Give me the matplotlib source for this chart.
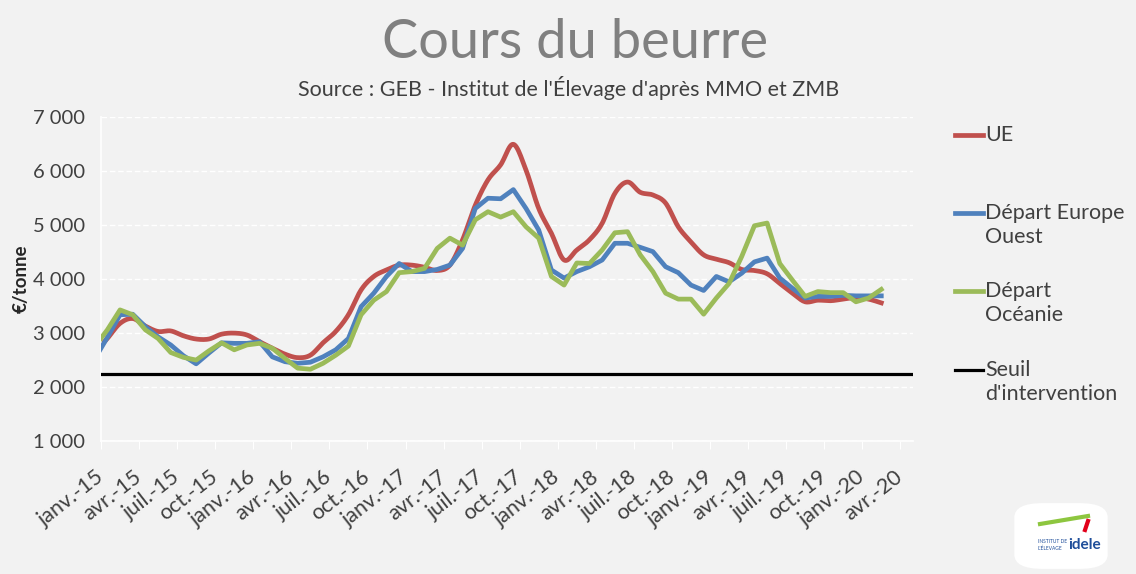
import matplotlib
matplotlib.use("Agg")
import matplotlib.pyplot as plt
from matplotlib.lines import Line2D
from matplotlib.patches import FancyBboxPatch
import matplotlib.transforms as mtransforms
import numpy as np

plt.rcParams['font.family'] = ['Lato', 'DejaVu Sans']

# monthly series, déc.-14 .. févr.-20 (déc.-14 falls just left of the axis)
ue = [2640, 2900, 3180, 3270, 3130, 3030, 3040, 2950, 2890, 2890, 2980, 3000, 2965,
      2840, 2720, 2610, 2545, 2590, 2820, 3030, 3340, 3800, 4050, 4170, 4260,
      4260, 4220, 4160, 4260, 4730, 5370, 5840, 6120, 6500, 6020, 5310, 4850,
      4355, 4540, 4730, 5035, 5590, 5800, 5610, 5560, 5410, 4970, 4690, 4450,
      4370, 4305, 4180, 4160, 4100, 3920, 3740, 3580, 3610, 3600, 3630, 3660,
      3630, 3560]
europe_ouest = [2520, 2920, 3340, 3350, 3120, 2930, 2780, 2580, 2430, 2630, 2820, 2810, 2810,
                2840, 2560, 2470, 2440, 2460, 2560, 2690, 2900, 3490, 3740, 4050, 4290,
                4140, 4140, 4180, 4260, 4570, 5310, 5500, 5490, 5660, 5310, 4910, 4170,
                4020, 4140, 4230, 4355, 4665, 4665, 4590, 4510, 4230, 4120, 3890, 3790,
                4050, 3950, 4110, 4320, 4390, 4020, 3830, 3650, 3680, 3680, 3700, 3690,
                3690, 3690]
oceanie = [2750, 3060, 3430, 3340, 3060, 2900, 2640, 2550, 2500, 2670, 2820, 2690, 2780,
           2810, 2720, 2530, 2350, 2330, 2440, 2590, 2760, 3340, 3610, 3770, 4120,
           4140, 4200, 4570, 4760, 4630, 5100, 5250, 5150, 5250, 4970, 4760, 4050,
           3890, 4300, 4290, 4540, 4860, 4880, 4450, 4140, 3740, 3630, 3630, 3350,
           3650, 3920, 4420, 4990, 5040, 4290, 3980, 3680, 3770, 3750, 3750, 3580,
           3650, 3810]
seuil_value = 2250
seuil_months = 66  # déc.-14 .. avr.-20

tick_labels = []
for yy in range(15, 21):
    for mm in ["janv.", "avr.", "juil.", "oct."]:
        tick_labels.append(f"{mm}-{yy}")
tick_labels = tick_labels[:22]

W, H = 1136, 574


def smooth(x, y, n=12):
    # catmull-rom, roughly like Excel's smoothed line
    x = np.asarray(x, float)
    y = np.asarray(y, float)
    xs, ys = [], []
    t = np.linspace(0, 1, n, endpoint=False)
    for i in range(len(x) - 1):
        i0, i3 = max(i - 1, 0), min(i + 2, len(x) - 1)
        for arr, out in ((x, xs), (y, ys)):
            p0, p1, p2, p3 = arr[i0], arr[i], arr[i + 1], arr[i3]
            out.extend(0.5 * ((2 * p1) + (-p0 + p2) * t
                              + (2 * p0 - 5 * p1 + 4 * p2 - p3) * t ** 2
                              + (-p0 + 3 * p1 - 3 * p2 + p3) * t ** 3))
    xs.append(x[-1])
    ys.append(y[-1])
    return np.array(xs), np.array(ys)


bg = "#F2F2F2"
fig = plt.figure(figsize=(W / 100, H / 100), dpi=100, facecolor=bg)
ax = fig.add_axes([101 / W, 1 - 441 / H, (913 - 101) / W, (441 - 117.3) / H])
ax.set_facecolor(bg)

pos = np.arange(len(ue)) - 0.5
red, blue, green = "#C0504D", "#4F81BD", "#9BBB59"

sx, sy = smooth(pos, ue)
ax.plot(np.arange(len(europe_ouest)) - 0.5, europe_ouest, color=blue, lw=3.4,
        solid_joinstyle="round", zorder=3)
ax.plot(np.arange(len(oceanie)) - 0.5, oceanie, color=green, lw=3.4,
        solid_joinstyle="round", zorder=4)
ax.plot(sx, sy, color=red, lw=3.4, zorder=2)
ax.plot(np.arange(seuil_months) - 0.5, [seuil_value] * seuil_months, color="black",
        lw=2.3, zorder=5)

ax.set_xlim(0, 64)
ax.set_ylim(1000, 7000)
ax.set_yticks(range(1000, 7001, 1000))
ax.set_yticklabels([f"{v // 1000} {v % 1000:03d}" for v in range(1000, 7001, 1000)],
                   fontsize=14.5, color="#404040")
ax.set_xticks(np.arange(0, 64, 3))
ax.set_xticklabels(tick_labels, rotation=38, ha="right", va="center",
                   rotation_mode="anchor", fontsize=15.5, color="#404040")
shift = mtransforms.ScaledTranslation(9 / 100, 0, fig.dpi_scale_trans)
for lab in ax.get_xticklabels():
    lab.set_transform(lab.get_transform() + shift)
ax.tick_params(axis="x", colors="white", length=6, pad=18, labelcolor="#404040")
ax.tick_params(axis="y", length=0, pad=11.5)
ax.grid(axis="y", color="white", linestyle=(0, (4, 2)), lw=1)
for s in ["top", "right"]:
    ax.spines[s].set_visible(False)
ax.spines["left"].set_color("white")
ax.spines["bottom"].set_color("white")
ax.spines["left"].set_linewidth(1.2)
ax.spines["bottom"].set_linewidth(1.2)
ax.set_ylabel("€/tonne", fontsize=13.5, fontweight="bold", color="#262626")
ax.yaxis.set_label_coords((30 - 101) / (913 - 101), 0.5)

fig.text(575 / W, 1 - 42 / H, "Cours du beurre", ha="center", va="center",
         fontsize=39, color="#808080")
fig.text(569 / W, 1 - 88 / H, "Source : GEB - Institut de l'Élevage d'après MMO et ZMB",
         ha="center", va="center", fontsize=15.5, color="#404040")

# legend drawn by hand so the marker sits on the first line of text
entries = [(red, 3.4, ["UE"], 135), (blue, 3.4, ["Départ Europe", "Ouest"], 213),
           (green, 3.4, ["Départ", "Océanie"], 291), ("black", 2.3, ["Seuil", "d'intervention"], 370)]
for col, lw, lines, y in entries:
    fig.add_artist(Line2D([955 / W, 983 / W], [1 - y / H, 1 - y / H], color=col, lw=lw))
    for k, txt in enumerate(lines):
        fig.text(985 / W, 1 - (y + 24 * k) / H, txt, ha="left", va="center",
                 fontsize=15.5, color="#404040")

# idele logo, simplified
logo = FancyBboxPatch((1020 / W, 1 - 566 / H), 82 / W, 60 / H,
                      boxstyle="round,pad=0.005,rounding_size=0.025",
                      transform=fig.transFigure, facecolor="white", edgecolor="none")
fig.add_artist(logo)
fig.add_artist(Line2D([1040 / W, 1088 / W], [1 - 524 / H, 1 - 516 / H], color="#8DC63F", lw=3))
fig.add_artist(Line2D([1085 / W, 1088 / W], [1 - 530 / H, 1 - 521 / H], color="#E2001A", lw=3))
fig.text(1068 / W, 1 - 545 / H, "idele", ha="left", va="center", fontsize=11,
         fontweight="bold", color="#1F4E9A")
fig.text(1038 / W, 1 - 545 / H, "INSTITUT DE\nL'ÉLEVAGE", ha="left", va="center",
         fontsize=3.5, color="#1F4E9A")

fig.savefig("out.png", dpi=100, facecolor=bg)
